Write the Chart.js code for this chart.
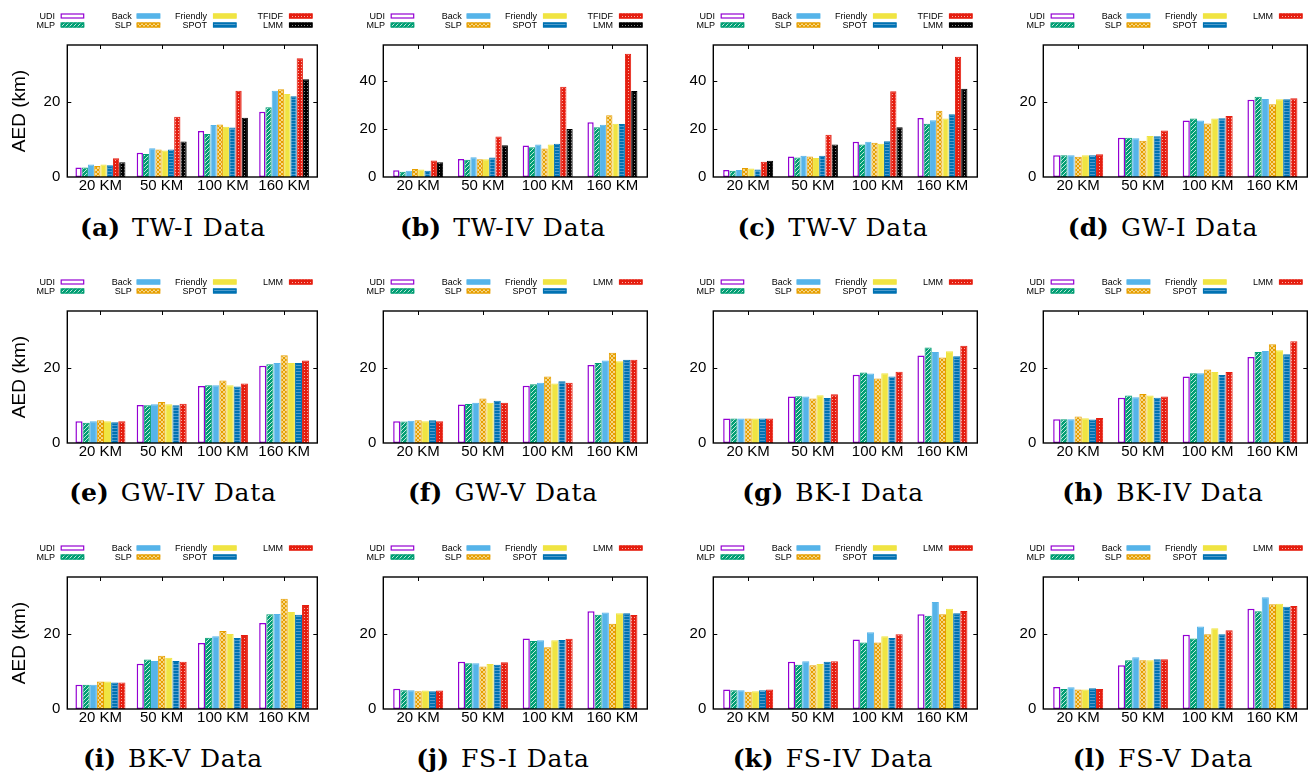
<!DOCTYPE html>
<html><head><meta charset="utf-8">
<script src="https://cdn.jsdelivr.net/npm/chart.js@4"></script>
<style>
body{margin:0;background:#fff;width:1314px;height:777px;position:relative;overflow:hidden;}
.cell{position:absolute;}
.cap{position:absolute;width:330px;text-align:center;font-family:'DejaVu Serif';font-size:25px;color:#000;line-height:28px;white-space:nowrap;}
.cap b{margin-right:12px;letter-spacing:0;}
.cap span{letter-spacing:0.8px;}
</style></head><body>
<script>
const categories = ['20 KM','50 KM','100 KM','160 KM'];
const methods8 = ['UDI','MLP','Back','SLP','Friendly','SPOT','TFIDF','LMM'];
const methods7 = ['UDI','MLP','Back','SLP','Friendly','SPOT','LMM'];
const yTitle = 'AED (km)';

// values: one row per method (order as in methods list), one value per category
const twI  = [[2.5,6.4,12.2,17.3],[2.5,6.1,11.4,18.5],[3.3,7.6,13.8,22.9],[2.9,7.3,13.9,23.3],[3.3,7.0,13.3,22.0],[3.1,7.3,13.1,21.4],[5.0,16.0,22.9,31.5],[3.9,9.4,15.7,25.9]];
const twIV = [[2.8,7.5,13.1,22.8],[2.2,7.2,12.4,20.7],[2.6,8.2,13.5,21.8],[3.3,7.4,11.9,25.7],[3.1,7.4,13.5,22.2],[2.6,8.1,13.9,22.1],[6.9,16.9,37.6,51.4],[6.1,13.2,20.0,35.8]];
const twV  = [[2.9,8.5,14.7,24.6],[2.6,8.1,13.5,22.2],[2.9,8.9,14.7,23.6],[3.7,8.5,14.3,27.6],[3.5,7.9,13.9,24.4],[3.1,8.9,14.9,26.1],[6.4,17.6,35.7,50.1],[6.8,13.5,20.7,36.8]];
const gwI  = [[5.75,10.4,15.0,20.5],[5.75,10.4,15.5,21.3],[5.75,10.3,15.0,20.7],[5.4,9.6,14.2,19.3],[5.75,10.9,15.5,20.6],[5.75,10.8,15.6,20.6],[6.0,12.3,16.2,20.9]];
const gwIV = [[5.75,10.1,15.1,20.5],[5.4,10.0,15.3,20.9],[5.75,10.3,15.3,21.2],[6.0,10.9,16.6,23.3],[5.75,10.3,15.3,21.2],[5.5,10.0,15.0,21.2],[5.75,10.4,15.8,21.9]];
const gwV  = [[5.8,10.2,15.2,20.7],[5.7,10.35,15.6,21.2],[5.9,10.7,16.0,21.9],[6.0,11.8,17.6,23.9],[5.75,10.7,15.8,21.7],[6.0,11.2,16.4,22.1],[5.8,10.7,16.0,22.1]];
const bkI  = [[6.5,12.3,18.1,23.2],[6.5,12.4,18.7,25.3],[6.5,12.3,18.4,24.1],[6.5,11.8,17.1,22.7],[6.5,12.65,18.5,24.3],[6.5,11.95,17.6,23.0],[6.5,12.9,18.9,25.8]];
const bkIV = [[6.3,12.0,17.6,22.8],[6.3,12.6,18.5,24.1],[6.3,12.1,18.5,24.4],[7.0,13.0,19.5,26.2],[6.55,12.6,18.8,24.6],[6.2,12.0,18.0,23.5],[6.6,12.3,18.85,27.0]];
const bkV  = [[6.4,12.0,17.5,22.8],[6.4,13.1,18.9,25.1],[6.4,12.7,19.3,25.2],[7.3,14.1,20.7,29.2],[7.3,13.6,19.9,25.75],[7.0,12.7,18.85,25.0],[7.0,12.5,19.6,27.6]];
const fsI  = [[5.4,12.5,18.7,25.9],[4.95,12.1,18.0,25.0],[5.0,12.1,18.2,25.6],[4.7,11.3,16.4,22.6],[4.9,11.95,18.2,25.4],[4.7,11.7,18.3,25.4],[4.9,12.4,18.6,24.9]];
const fsIV = [[5.2,12.5,18.4,25.1],[4.95,11.7,17.6,24.7],[4.95,12.65,20.35,28.4],[4.6,11.6,17.6,25.1],[4.7,11.95,19.3,26.6],[4.95,12.5,18.8,25.4],[5.2,12.65,19.8,26.0]];
const fsV  = [[5.85,11.6,19.7,26.6],[5.3,12.9,18.7,25.9],[5.75,13.7,21.9,29.6],[5.2,12.9,19.8,27.8],[5.2,12.9,21.4,27.9],[5.5,13.2,19.8,27.1],[5.3,13.2,20.9,27.3]];

const panelLetters = ['a','b','c','d','e','f','g','h','i','j','k','l'];
const panelNames = ['TW-I Data','TW-IV Data','TW-V Data','GW-I Data','GW-IV Data','GW-V Data','BK-I Data','BK-IV Data','BK-V Data','FS-I Data','FS-IV Data','FS-V Data'];
const panelData = [twI,twIV,twV,gwI,gwIV,gwV,bkI,bkIV,bkV,fsI,fsIV,fsV];
const panelYMax = [35,55,55,35,35,35,35,35,35,35,35,35];

Chart.defaults.font.family = "'Liberation Sans', Arial, sans-serif";
Chart.defaults.color = '#000';

const colX = [0,330,660,990], colW = [330,330,330,324], rowY = [0,266,532];
const H = 210, frameT = 45, frameB = 177, frameR = 317.3, inset = 2.5;

function tile(w, h, draw){
  const c = document.createElement('canvas'); c.width = w; c.height = h;
  const g = c.getContext('2d'); draw(g);
  return document.createElement('canvas').getContext('2d').createPattern(c, 'repeat');
}
function styleFor(m, n){
  const lmmBlack = (n === 8);
  switch(m){
    case 'UDI': return {bg:'#ffffff', bc:'#9400d3', bw:1.5};
    case 'MLP': return {bg: tile(4,4,g=>{g.fillStyle='#009e73';g.fillRect(0,0,4,4);g.fillStyle='#bfe8dc';for(let i=0;i<4;i++)g.fillRect(i,3-i,1,1);}), bc:'#009e73', bw:1};
    case 'Back': return {bg:'#56b4e9', bc:'#56b4e9', bw:1};
    case 'SLP': return {bg: tile(4,4,g=>{g.fillStyle='#f6d68a';g.fillRect(0,0,4,4);g.fillStyle='#e69f00';for(let i=0;i<4;i++){g.fillRect(i,i,1,1);g.fillRect(i,3-i,1,1);}}), bc:'#e69f00', bw:1};
    case 'Friendly': return {bg:'#f0e442', bc:'#f0e442', bw:1};
    case 'SPOT': return {bg: tile(3,3,g=>{g.fillStyle='#0072b2';g.fillRect(0,0,3,3);g.fillStyle='#4f9ccc';g.fillRect(0,0,3,1);}), bc:'#0072b2', bw:1};
    case 'TFIDF': return {bg: tile(3,3,g=>{g.fillStyle='#e51e10';g.fillRect(0,0,3,3);g.fillStyle='#f7b0a8';g.fillRect(1,1,1,1);}), bc:'#e51e10', bw:1};
    case 'LMM':
      if(lmmBlack) return {bg: tile(3,3,g=>{g.fillStyle='#000';g.fillRect(0,0,3,3);g.fillStyle='#8a8a8a';g.fillRect(1,1,1,1);}), bc:'#000', bw:1};
      return {bg: tile(3,3,g=>{g.fillStyle='#e51e10';g.fillRect(0,0,3,3);g.fillStyle='#f7b0a8';g.fillRect(1,1,1,1);}), bc:'#e51e10', bw:1};
  }
}

const framePlugin = {
  id:'frameLegend',
  afterDraw(chart, args, opts){
    const ctx = chart.ctx, ca = chart.chartArea;
    const L = ca.left - inset, R = ca.right + inset, T = ca.top, B = ca.bottom;
    ctx.save();
    ctx.strokeStyle = '#000'; ctx.lineWidth = 1.4;
    ctx.strokeRect(L, T, R - L, B - T);
    ctx.lineWidth = 1;
    const ys = chart.scales.y, xs = chart.scales.x;
    ys.ticks.forEach(t => {
      if (t.value === 0) return;
      const py = Math.round(ys.getPixelForValue(t.value)) + 0.5;
      ctx.beginPath(); ctx.moveTo(L, py); ctx.lineTo(L + 4, py); ctx.moveTo(R, py); ctx.lineTo(R - 4, py); ctx.stroke();
    });
    categories.forEach((_, i) => {
      const px = Math.round(xs.getPixelForValue(i)) + 0.5;
      ctx.beginPath(); ctx.moveTo(px, T); ctx.lineTo(px, T + 4); ctx.stroke();
    });
    // legend
    const textRight = [55, 131.7, 207, 283], swLeft = [60.7, 136.7, 213, 289], rowC = [16, 25];
    ctx.font = "9px 'Liberation Sans', Arial, sans-serif";
    ctx.textAlign = 'right'; ctx.textBaseline = 'middle'; ctx.fillStyle = '#000';
    chart.data.datasets.forEach((ds, i) => {
      const c = Math.floor(i / 2), r = i % 2;
      ctx.fillStyle = '#000';
      ctx.fillText(ds.label, textRight[c], rowC[r] + 0.5);
      const x = swLeft[c], y = rowC[r] - 2.5;
      ctx.fillStyle = ds.backgroundColor; ctx.fillRect(x, y, 23.5, 5);
      ctx.strokeStyle = ds.borderColor; ctx.lineWidth = 1.2; ctx.strokeRect(x + 0.5, y + 0.5, 22.5, 4);
    });
    ctx.restore();
  }
};

panelData.forEach((data, k) => {
  const r = Math.floor(k / 4), c = k % 4;
  const W = colW[c];
  const frameL = c === 0 ? 67.3 : 53.3;
  const methods = data.length === 8 ? methods8 : methods7;
  const cell = document.createElement('div');
  cell.className = 'cell'; cell.style.left = colX[c] + 'px'; cell.style.top = rowY[r] + 'px';
  const cv = document.createElement('canvas'); cv.width = W; cv.height = H; cv.style.width = W + 'px'; cv.style.height = H + 'px';
  cell.appendChild(cv); document.body.appendChild(cell);
  const catW = (frameR - frameL - 2 * inset) / categories.length;
  const datasets = methods.map((m, i) => {
    const s = styleFor(m, methods.length);
    return {label: m, data: data[i], backgroundColor: s.bg, borderColor: s.bc, borderWidth: s.bw,
      borderSkipped: false, categoryPercentage: 50 / catW, barPercentage: 1};
  });
  new Chart(cv, {
    type: 'bar',
    data: {labels: categories, datasets},
    plugins: [framePlugin],
    options: {
      responsive: false, animation: false, devicePixelRatio: 1,
      layout: {padding: {top: frameT, left: 0, right: W - (frameR - inset), bottom: H - frameB - 25}},
      plugins: {legend: {display: false}, tooltip: {enabled: false}},
      scales: {
        x: {grid: {display: false, drawTicks: false}, border: {display: false},
            ticks: {padding: 0, font: {size: 15}, color: '#000', maxRotation: 0, autoSkip: false},
            afterFit(s){ s.height = 25; }},
        y: {min: 0, max: panelYMax[k], grid: {display: false, drawTicks: false}, border: {display: false},
            ticks: {stepSize: 20, includeBounds: false, padding: inset + 7, font: {size: 15}, color: '#000'},
            title: {display: c === 0, text: yTitle, font: {size: 19}, color: '#000', padding: {top: 8, bottom: 0}},
            afterFit(s){ s.width = frameL + inset; }}
      }
    }
  });
  const cap = document.createElement('div');
  cap.className = 'cap';
  const capY = [228, 493, 759][r];
  cap.style.left = (colX[c] + 173 - 165) + 'px';
  cap.style.top = (capY - 14) + 'px';
  cap.innerHTML = '<b>(' + panelLetters[k] + ')</b><span>' + panelNames[k] + '</span>';
  document.body.appendChild(cap);
});
</script>
</body></html>
